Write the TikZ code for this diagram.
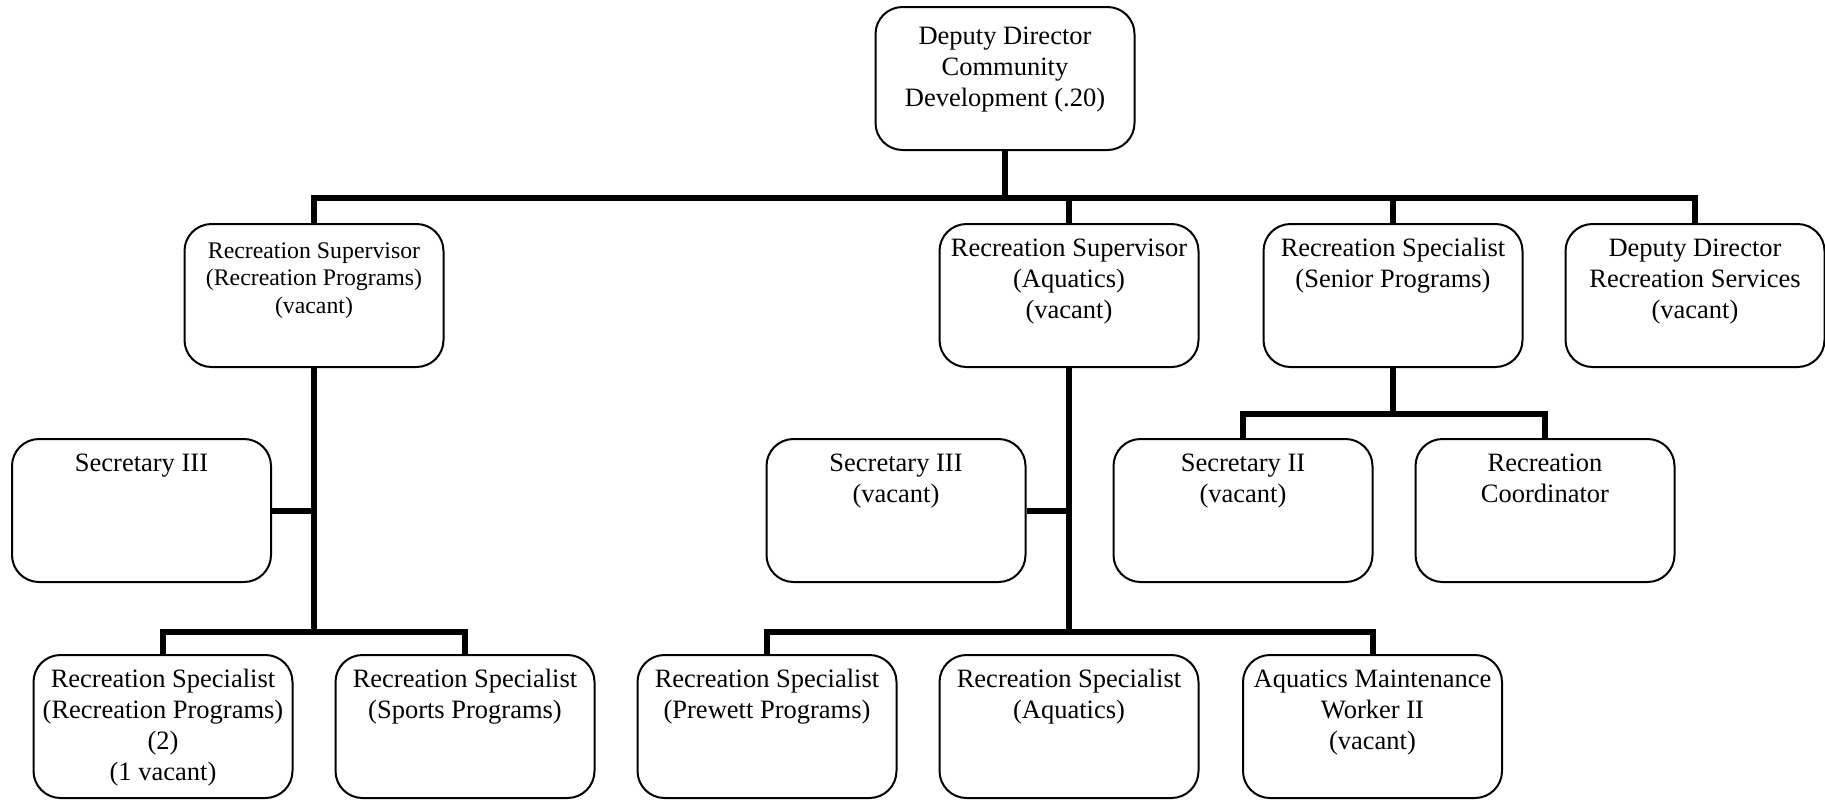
\documentclass[tikz,border=0pt]{standalone}
\usepackage{fontspec}
\setmainfont{Liberation Serif}

% Text sizes used in the position boxes
\newcommand{\mainsize}{\fontsize{26.5pt}{31pt}\selectfont}
\newcommand{\minorsize}{\fontsize{23.8pt}{27.5pt}\selectfont}

% Box contents: fixed-size area, lines centred and hung from the top
\newcommand{\jobtext}[2][32pt]{%
  \parbox[t][143pt][t]{259pt}{\centering\mainsize\rule{0pt}{#1}#2}}
\newcommand{\minorjobtext}[1]{%
  \parbox[t][143pt][t]{259pt}{\centering\minorsize\rule{0pt}{34pt}#1}}

\tikzset{
  jobbox/.style={draw, line width=2pt, rounded corners=27pt,
    minimum width=259pt, minimum height=143pt, inner sep=0pt,
    anchor=north, fill=white},
  link/.style={draw, line width=6pt, line join=miter, line cap=butt}
}

\begin{document}
\begin{tikzpicture}[x=1pt, y=-1pt]
  \useasboundingbox (0,0) rectangle (1825,801);

  % bus levels
  \coordinate (busA) at (0,198);
  \coordinate (busB) at (0,414);
  \coordinate (busC) at (0,632);

  % top
  \node[jobbox] (dd) at (1005,6) {\jobtext[37pt]{Deputy Director\\Community\\Development (.20)}};

  % first level
  \node[jobbox] (rsl) at (314,223) {\minorjobtext{Recreation Supervisor\\(Recreation Programs)\\(vacant)}};
  \node[jobbox] (aqs) at (1069,223) {\jobtext{Recreation Supervisor\\(Aquatics)\\(vacant)}};
  \node[jobbox] (srs) at (1393,223) {\jobtext{Recreation Specialist\\(Senior Programs)}};
  \node[jobbox] (ddrs) at (1695,223) {\jobtext{Deputy Director\\Recreation Services\\(vacant)}};

  % second level
  \node[jobbox] (secA) at (141.5,438) {\jobtext{Secretary III}};
  \node[jobbox] (secB) at (896,438) {\jobtext{Secretary III\\(vacant)}};
  \node[jobbox] (secC) at (1243,438) {\jobtext{Secretary II\\(vacant)}};
  \node[jobbox] (rco) at (1545,438) {\jobtext{Recreation\\Coordinator}};

  % third level
  \node[jobbox] (rsrp) at (163,654) {\jobtext{Recreation Specialist\\(Recreation Programs)\\(2)\\(1 vacant)}};
  \node[jobbox] (rssp) at (465,654) {\jobtext{Recreation Specialist\\(Sports Programs)}};
  \node[jobbox] (rspp) at (767,654) {\jobtext{Recreation Specialist\\(Prewett Programs)}};
  \node[jobbox] (rsaq) at (1069,654) {\jobtext{Recreation Specialist\\(Aquatics)}};
  \node[jobbox] (amw) at (1372.5,654) {\jobtext{Aquatics Maintenance\\Worker II\\(vacant)}};

  % connectors from the top
  \draw[link] (dd.south) -- (dd.south |- busA);
  \draw[link] (rsl.north) |- (ddrs.north |- busA) -- (ddrs.north);
  \draw[link] (aqs.north) -- (aqs.north |- busA);
  \draw[link] (srs.north) -- (srs.north |- busA);

  % recreation programs branch
  \draw[link] (rsl.south) -- (rsl.south |- busC);
  \draw[link] (rsrp.north) |- (rssp.north |- busC) -- (rssp.north);
  \draw[link] (secA.east) -- (secA.east -| rsl.south);

  % aquatics branch
  \draw[link] (aqs.south) -- (aqs.south |- busC);
  \draw[link] (rspp.north) |- (amw.north |- busC) -- (amw.north);
  \draw[link] (secB.east) -- (secB.east -| aqs.south);

  % senior programs branch
  \draw[link] (srs.south) -- (srs.south |- busB);
  \draw[link] (secC.north) |- (rco.north |- busB) -- (rco.north);
\end{tikzpicture}
\end{document}
